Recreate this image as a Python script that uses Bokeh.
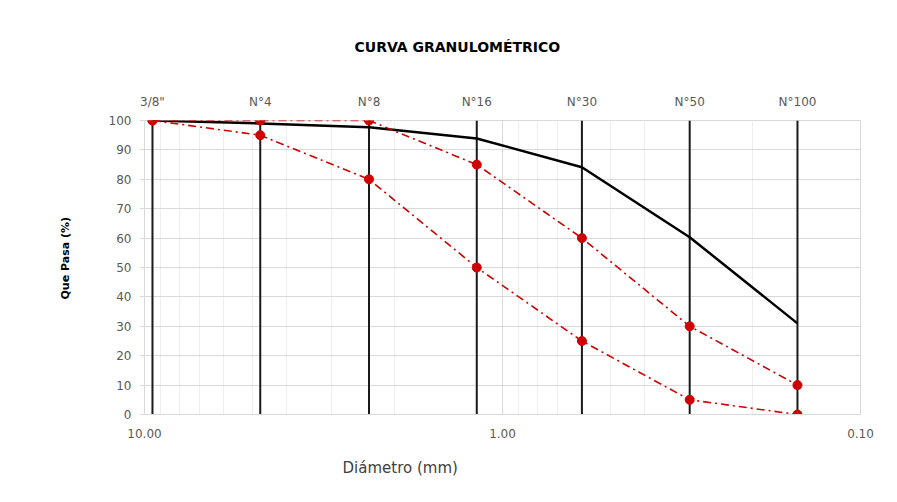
from bokeh.plotting import figure
from bokeh.models import (Range1d, FixedTicker, LogAxis, NumeralTickFormatter, Title)
from bokeh.embed import file_html
from bokeh.resources import INLINE

# ---- data ----
sieve_labels = ['3/8"', 'N°4', 'N°8', 'N°16', 'N°30', 'N°50', 'N°100']
sieve_mm = [9.5, 4.75, 2.36, 1.18, 0.6, 0.3, 0.15]
passing = [100, 99, 97.7, 93.9, 84.1, 60.3, 31]
upper_limit = [100, 100, 100, 85, 60, 30, 10]
lower_limit = [100, 95, 80, 50, 25, 5, 0]
x_major = [10, 1, 0.1]
x_minor = [9, 8, 7, 6, 5, 4, 3, 2, 0.9, 0.8, 0.7, 0.6, 0.5, 0.4, 0.3, 0.2]
y_ticks = list(range(0, 101, 10))

FONT = "DejaVu Sans"
GRAY = "#595959"

p = figure(width=881, height=494, output_backend="svg", toolbar_location=None,
           x_axis_type="log", x_range=Range1d(10, 0.1), y_range=Range1d(0, 100),
           min_border_left=144, min_border_right=21, min_border_top=120,
           min_border_bottom=80)
p.outline_line_color = "#d9d9d9"
p.background_fill_color = "white"

# grids
p.xgrid.ticker = FixedTicker(ticks=x_major, minor_ticks=x_minor)
p.xgrid.grid_line_color = "#d9d9d9"
p.xgrid.minor_grid_line_color = "#eeeeee"
p.ygrid.ticker = FixedTicker(ticks=y_ticks)
p.ygrid.grid_line_color = "#d9d9d9"

# bottom x axis
xa = p.xaxis[0]
xa.ticker = FixedTicker(ticks=x_major)
xa.formatter = NumeralTickFormatter(format="0.00")
xa.axis_line_color = "#d9d9d9"
xa.major_tick_line_color = None
xa.minor_tick_line_color = None
xa.major_label_text_font = FONT
xa.major_label_text_font_size = "12px"
xa.major_label_text_color = GRAY
xa.major_label_standoff = 8

# y axis
ya = p.yaxis[0]
ya.ticker = FixedTicker(ticks=y_ticks)
ya.axis_line_color = "#d9d9d9"
ya.major_tick_line_color = "#d9d9d9"
ya.major_tick_out = 5
ya.major_tick_in = 0
ya.minor_tick_line_color = None
ya.major_label_text_font = FONT
ya.major_label_text_font_size = "12px"
ya.major_label_text_color = GRAY
ya.major_label_standoff = 8

# y label as a left title (allows positioning along the axis)
p.add_layout(Title(text="Que Pasa (%)", align="left", offset=115,
                   text_font=FONT, text_font_style="bold",
                   text_font_size="11px", text_color="black", standoff=68), "left")

# top axis with sieve names
top = LogAxis(ticker=FixedTicker(ticks=sieve_mm),
              major_label_overrides={s: l for s, l in zip(sieve_mm, sieve_labels)})
top.axis_line_color = None
top.major_tick_line_color = None
top.minor_tick_line_color = None
top.major_label_text_font = FONT
top.major_label_text_font_size = "12px"
top.major_label_text_color = GRAY
top.major_label_standoff = 6
p.add_layout(top, "above")

# title
p.add_layout(Title(text="CURVA GRANULOMÉTRICO", align="left", offset=210,
                   text_font=FONT, text_font_style="bold",
                   text_font_size="14px", text_color="black", standoff=73), "above")

# x label
p.add_layout(Title(text="Diámetro (mm)", align="left", offset=198,
                   text_font=FONT, text_font_style="normal",
                   text_font_size="15px", text_color="#404040", standoff=33), "below")

# sieve vertical lines
p.segment(x0=sieve_mm, y0=[0] * len(sieve_mm), x1=sieve_mm, y1=[100] * len(sieve_mm),
          line_color="#1a1a1a", line_width=2)

# sample curve
p.line(sieve_mm, passing, line_color="black", line_width=2.5)

# specification limits
for lim in (upper_limit, lower_limit):
    p.line(sieve_mm, lim, line_color="#d00000", line_width=1.6, line_dash="8 4 2 4")
    p.scatter(sieve_mm, lim, size=9, fill_color="#d00000", line_color="#d00000")

open("out.html", "w").write(file_html(p, INLINE))
